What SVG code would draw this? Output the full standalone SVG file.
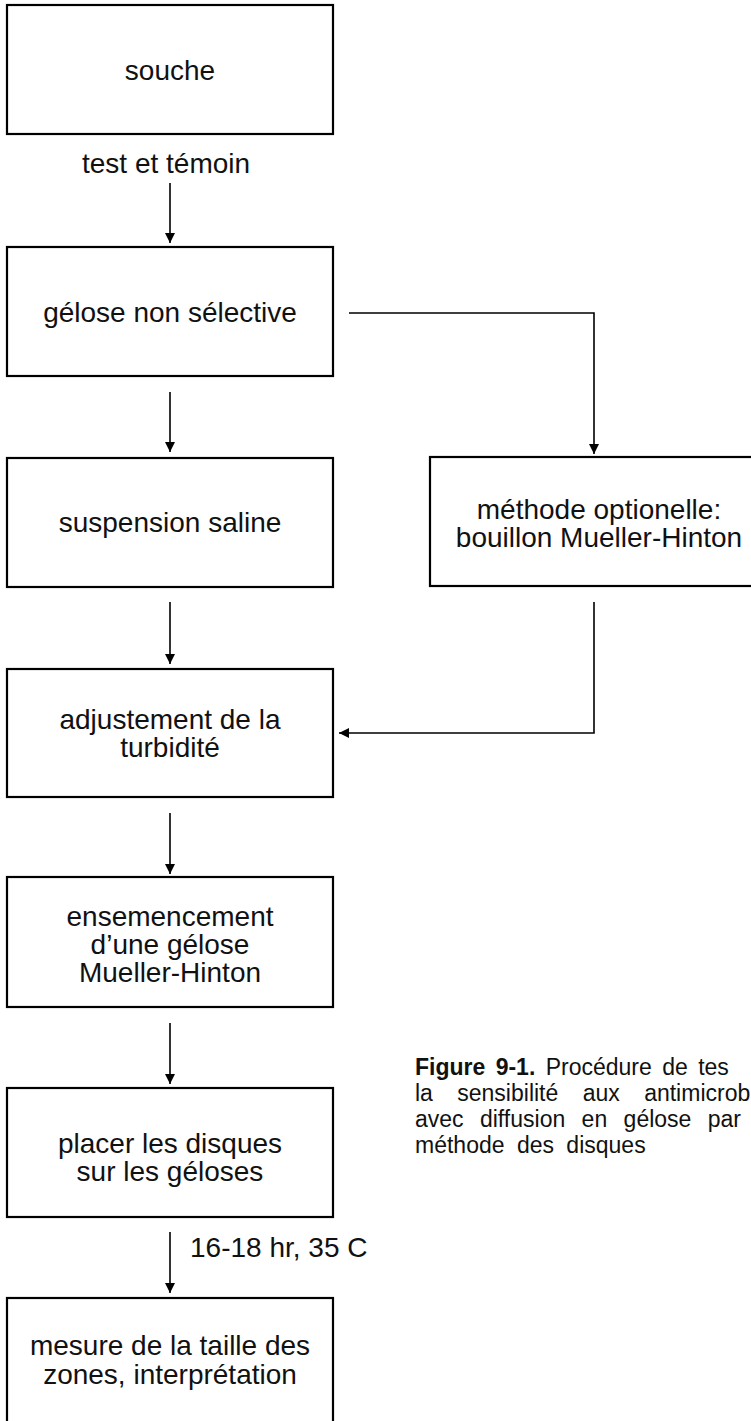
<svg xmlns="http://www.w3.org/2000/svg" width="751" height="1421" viewBox="0 0 751 1421">
<style>
.box{fill:#fff;stroke:#000;stroke-width:2.2}
.t{font-family:"Liberation Sans",Arial,sans-serif;font-size:28px;fill:#111;text-anchor:middle}
.lbl{font-family:"Liberation Sans",Arial,sans-serif;font-size:28px;fill:#111}
.cap{font-family:"Liberation Sans",Arial,sans-serif;font-size:23px;fill:#111}
.c{fill:none;stroke:#000;stroke-width:1.6}
</style>
<defs>
<marker id="ah" viewBox="0 0 10 10" refX="10" refY="5" markerWidth="10" markerHeight="10" markerUnits="userSpaceOnUse" orient="auto">
<path d="M0,0 L10,5 L0,10 z" fill="#000"/>
</marker>
</defs>
<rect width="751" height="1421" fill="#fff"/>
<g id="connectors">
<line class="c" x1="170" y1="183" x2="170" y2="243" marker-end="url(#ah)"/>
<line class="c" x1="170" y1="392" x2="170" y2="452" marker-end="url(#ah)"/>
<line class="c" x1="170" y1="602" x2="170" y2="664" marker-end="url(#ah)"/>
<line class="c" x1="170" y1="813" x2="170" y2="874" marker-end="url(#ah)"/>
<line class="c" x1="170" y1="1023" x2="170" y2="1084" marker-end="url(#ah)"/>
<line class="c" x1="170" y1="1232" x2="170" y2="1293" marker-end="url(#ah)"/>
<polyline class="c" points="349,313 594,313 594,454" marker-end="url(#ah)"/>
<polyline class="c" points="594,602 594,733 339,733" marker-end="url(#ah)"/>
<text class="lbl" x="82" y="173">test et témoin</text>
<text class="lbl" x="190" y="1257">16-18 hr, 35 C</text>
</g>
<g id="n-souche">
<rect class="box" x="7" y="5" width="326" height="129"/>
<text class="t" x="170" y="80">souche</text>
</g>
<g id="n-gelose">
<rect class="box" x="7" y="247" width="326" height="129"/>
<text class="t" x="170" y="322">gélose non sélective</text>
</g>
<g id="n-suspension">
<rect class="box" x="7" y="458" width="326" height="129"/>
<text class="t" x="170" y="532">suspension saline</text>
</g>
<g id="n-methode">
<rect class="box" x="430" y="457" width="330" height="129"/>
<text class="t" x="599" y="519">méthode optionelle:</text>
<text class="t" x="599" y="547">bouillon Mueller-Hinton</text>
</g>
<g id="n-adjustement">
<rect class="box" x="7" y="669" width="326" height="128"/>
<text class="t" x="170" y="729">adjustement de la</text>
<text class="t" x="170" y="757">turbidité</text>
</g>
<g id="n-ensemencement">
<rect class="box" x="7" y="877" width="326" height="130"/>
<text class="t" x="170" y="926">ensemencement</text>
<text class="t" x="170" y="954">d’une gélose</text>
<text class="t" x="170" y="982">Mueller-Hinton</text>
</g>
<g id="n-placer">
<rect class="box" x="7" y="1088" width="326" height="129"/>
<text class="t" x="170" y="1153">placer les disques</text>
<text class="t" x="170" y="1181">sur les géloses</text>
</g>
<g id="n-mesure">
<rect class="box" x="7" y="1298" width="326" height="130"/>
<text class="t" x="170" y="1355">mesure de la taille des</text>
<text class="t" x="170" y="1384">zones, interprétation</text>
</g>
<g id="caption">
<text class="cap" x="415" y="1075" word-spacing="4"><tspan font-weight="bold">Figure 9-1.</tspan> Procédure de tes</text>
<text class="cap" x="415" y="1101" word-spacing="18">la sensibilité aux antimicrob</text>
<text class="cap" x="415" y="1127" word-spacing="10">avec diffusion en gélose par</text>
<text class="cap" x="415" y="1153" word-spacing="6">méthode des disques</text>
</g>
</svg>
